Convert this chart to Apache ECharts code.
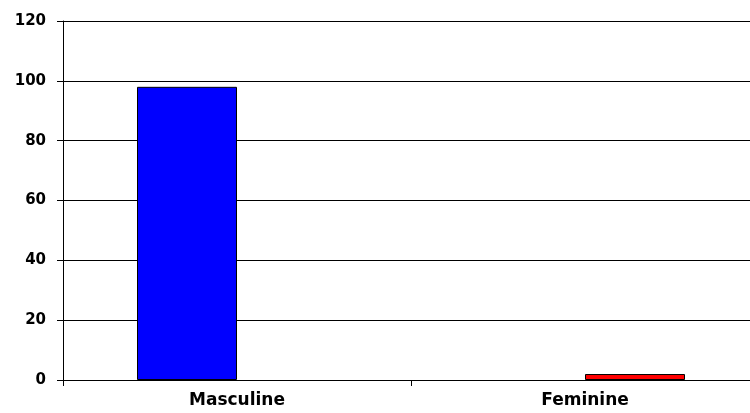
<!DOCTYPE html>
<html>
<head>
<meta charset="utf-8">
<script src="https://cdn.jsdelivr.net/npm/echarts@6/dist/echarts.min.js"></script>
<style>
  html, body { margin: 0; padding: 0; background: #fff; }
  #chart { width: 750px; height: 413px; }
</style>
</head>
<body>
<div id="chart"></div>
<script>
const categories = ['Masculine', 'Feminine'];
const masculineValues = [98, null];
const feminineValues = [null, 2];
const yTicks = { min: 0, max: 120, interval: 20 };

const chart = echarts.init(document.getElementById('chart'));
const labelFont = { color: '#000', fontFamily: 'DejaVu Sans, sans-serif', fontWeight: 'bold' };

chart.setOption({
  animation: false,
  grid: { left: 63, width: 696, top: 21, bottom: 33, outerBoundsMode: 'none' },
  xAxis: {
    type: 'category',
    data: categories,
    axisLine: { lineStyle: { color: '#000', width: 1 } },
    axisTick: { show: true, alignWithLabel: false, length: 6, lineStyle: { color: '#000' } },
    axisLabel: { ...labelFont, fontSize: 17, margin: 12 }
  },
  yAxis: {
    type: 'value',
    min: yTicks.min,
    max: yTicks.max,
    interval: yTicks.interval,
    axisLine: { show: true, lineStyle: { color: '#000', width: 1 } },
    axisTick: { show: true, length: 6, lineStyle: { color: '#000' } },
    axisLabel: { ...labelFont, fontSize: 15, margin: 17 },
    splitLine: { lineStyle: { color: '#000', width: 1 } }
  },
  series: [
    {
      name: 'Masculine',
      type: 'bar',
      data: masculineValues,
      barWidth: 100,
      barGap: 0,
      itemStyle: { color: '#0000ff', borderColor: '#000', borderWidth: 1 }
    },
    {
      name: 'Feminine',
      type: 'bar',
      data: feminineValues,
      barWidth: 100,
      barGap: 0,
      itemStyle: { color: '#ff0000', borderColor: '#000', borderWidth: 1 }
    }
  ]
});
</script>
</body>
</html>
